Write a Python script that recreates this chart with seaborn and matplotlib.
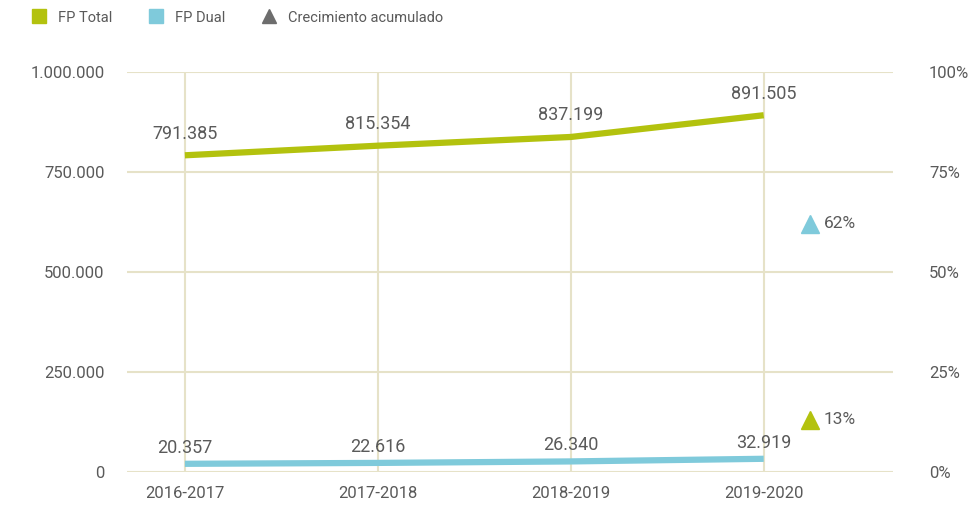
import pandas as pd
import seaborn as sns
import matplotlib.pyplot as plt
from matplotlib.lines import Line2D

# Data
cursos = ['2016-2017', '2017-2018', '2018-2019', '2019-2020']
fp_total = [791385, 815354, 837199, 891505]
fp_dual = [20357, 22616, 26340, 32919]
crecimiento = {'FP Total': 13, 'FP Dual': 62}

verde = '#b3c20e'
azul = '#7fcadb'
gris = '#5a5a5a'
rejilla = '#e6e2c8'

df = pd.DataFrame({
    'curso': cursos * 2,
    'alumnos': fp_total + fp_dual,
    'serie': ['FP Total'] * 4 + ['FP Dual'] * 4,
})

sns.set_style('white')
plt.rcParams['font.family'] = ['Roboto', 'DejaVu Sans']

fig = plt.figure(figsize=(9.77, 5.13), dpi=100)
ax = fig.add_axes([0.130, 0.080, 0.784, 0.780])

sns.lineplot(data=df, x='curso', y='alumnos', hue='serie',
             palette={'FP Total': verde, 'FP Dual': azul},
             linewidth=4.5, legend=False, ax=ax, zorder=3,
             solid_capstyle='butt')

ax.set_xlim(-0.3, 3.67)
ax.set_ylim(0, 1000000)
ax.set_yticks([0, 250000, 500000, 750000, 1000000])
ax.set_yticklabels([f'{v:,}'.replace(',', '.') for v in [0, 250000, 500000, 750000, 1000000]])
ax.set_xlabel('')
ax.set_ylabel('')
ax.grid(True, color=rejilla, linewidth=1.5, zorder=0)
for s in ax.spines.values():
    s.set_visible(False)
ax.tick_params(axis='both', length=0, colors=gris, labelsize=12)
ax.tick_params(axis='y', pad=16)
ax.tick_params(axis='x', pad=10)

# etiquetas de datos
for i, v in enumerate(fp_total):
    ax.annotate(f'{v:,}'.replace(',', '.'), (i, v), xytext=(0, 9),
                textcoords='offset points', ha='center', va='bottom',
                color=gris, fontsize=13, zorder=4)
for i, v in enumerate(fp_dual):
    ax.annotate(f'{v:,}'.replace(',', '.'), (i, v), xytext=(0, 5),
                textcoords='offset points', ha='center', va='bottom',
                color=gris, fontsize=13, zorder=4)

# eje derecho: crecimiento acumulado
ax2 = ax.twinx()
ax2.set_ylim(0, 100)
ax2.set_yticks([0, 25, 50, 75, 100])
ax2.set_yticklabels([f'{v}%' for v in [0, 25, 50, 75, 100]])
for s in ax2.spines.values():
    s.set_visible(False)
ax2.tick_params(axis='y', length=0, colors=gris, labelsize=12, pad=26)
ax2.grid(False)
for serie, color in [('FP Total', verde), ('FP Dual', azul)]:
    v = crecimiento[serie]
    ax2.plot([3.24], [v], marker='^', markersize=13, color=color, linestyle='none')
    ax2.annotate(f'{v}%', (3.24, v), xytext=(10, 0), textcoords='offset points',
                 ha='left', va='center', color=gris, fontsize=12.5)

handles = [
    Line2D([], [], marker='s', color=verde, linestyle='none', markersize=10),
    Line2D([], [], marker='s', color=azul, linestyle='none', markersize=10),
    Line2D([], [], marker='^', color='#6d6d6d', linestyle='none', markersize=10),
]
fig.legend(handles, ['FP Total', 'FP Dual', 'Crecimiento acumulado'],
           loc='upper left', bbox_to_anchor=(0.012, 1.005), ncol=3, frameon=False,
           handletextpad=0.3, columnspacing=2.0, labelcolor=gris, fontsize=10.5)

fig.savefig('out.png', dpi=100)
